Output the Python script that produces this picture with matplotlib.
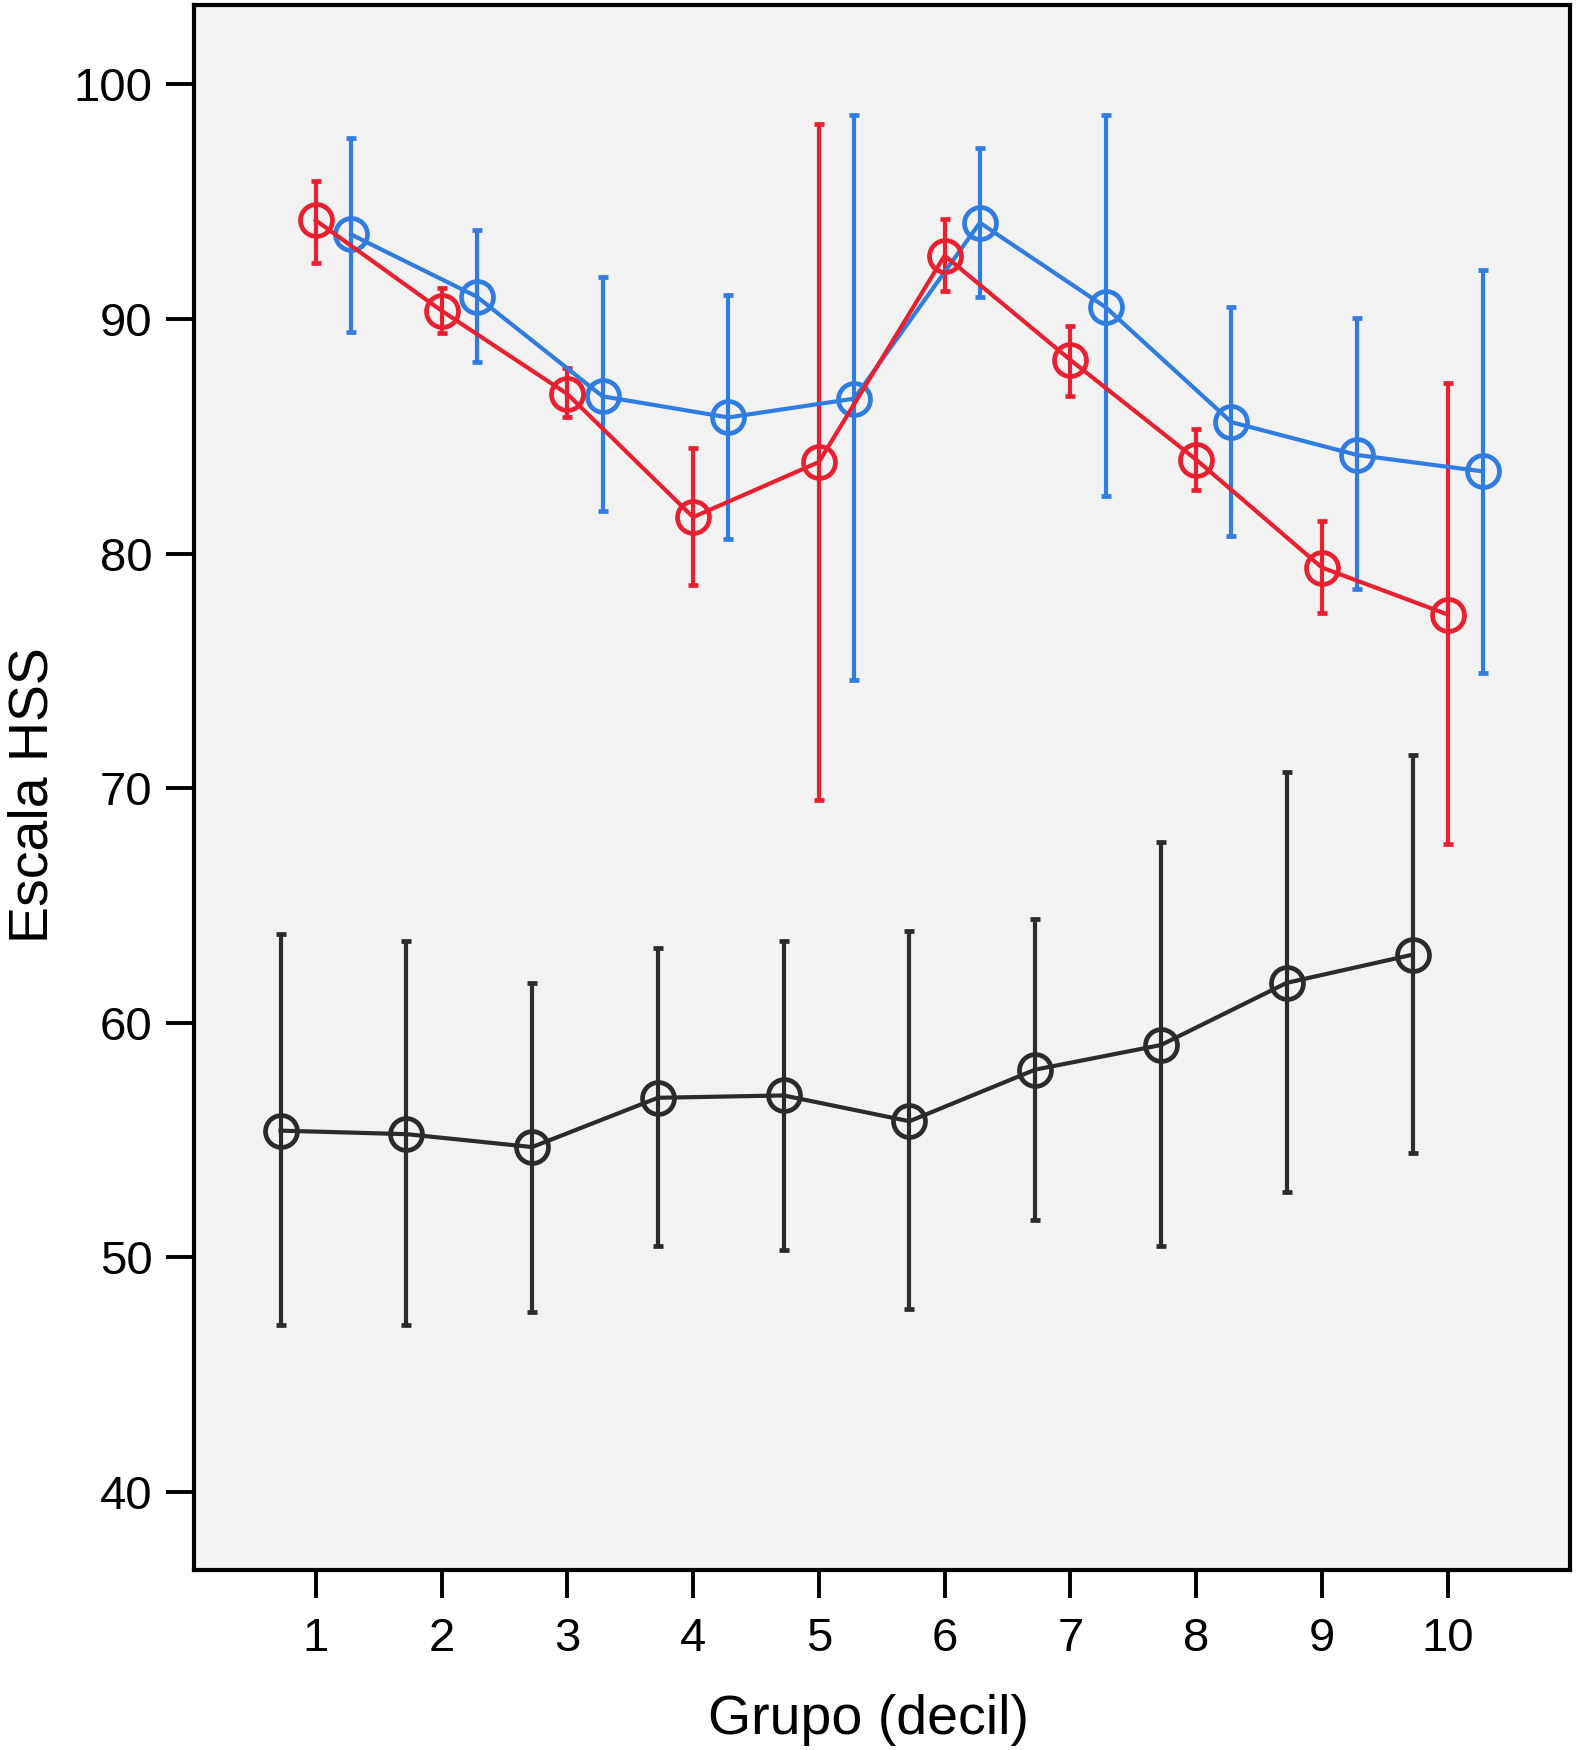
import numpy as np
import matplotlib
matplotlib.use("Agg")
import matplotlib.pyplot as plt

plt.rcParams["font.family"] = ["Liberation Sans", "DejaVu Sans"]

grupos = [1, 2, 3, 4, 5, 6, 7, 8, 9, 10]

# red series (centred on the ticks)
rojo_media = [94.2, 90.35, 86.8, 81.55, 83.9, 92.7, 88.25, 84.0, 79.4, 77.4]
rojo_sup = [95.9, 91.3, 87.9, 84.5, 98.3, 94.25, 89.7, 85.3, 81.4, 87.25]
rojo_inf = [92.4, 89.4, 85.8, 78.65, 69.5, 91.2, 86.7, 82.7, 77.45, 67.6]

# blue series (shifted right)
azul_media = [93.6, 90.95, 86.7, 85.8, 86.6, 94.1, 90.5, 85.6, 84.2, 83.5]
azul_sup = [97.7, 93.8, 91.8, 91.0, 98.7, 97.3, 98.7, 90.5, 90.05, 92.1]
azul_inf = [89.45, 88.15, 81.8, 80.6, 74.6, 90.95, 82.45, 80.75, 78.5, 74.9]

# black series (shifted left)
negro_media = [55.4, 55.25, 54.7, 56.8, 56.9, 55.8, 58.0, 59.05, 61.7, 62.9]
negro_sup = [63.8, 63.5, 61.7, 63.2, 63.5, 63.9, 64.4, 67.7, 70.7, 71.4]
negro_inf = [47.1, 47.1, 47.65, 50.5, 50.3, 47.8, 51.6, 50.5, 52.8, 54.45]

series = [
    (negro_media, negro_inf, negro_sup, -0.28, "#2b2b2b"),
    (azul_media, azul_inf, azul_sup, 0.28, "#2f7de1"),
    (rojo_media, rojo_inf, rojo_sup, 0.0, "#e8202f"),
]

fig = plt.figure(figsize=(15.76, 17.5), dpi=100)
ax = fig.add_axes([0.1232, 0.1027, 0.8733, 0.8947])
ax.set_facecolor("#f2f2f2")

for media, inf, sup, desplaz, color in series:
    x = np.array(grupos) + desplaz
    m = np.array(media)
    yerr = [m - np.array(inf), np.array(sup) - m]
    ax.errorbar(x, m, yerr=yerr, color=color, linewidth=3.0,
                elinewidth=3.0, capsize=3.5, capthick=3.2,
                marker="o", markersize=23, markerfacecolor="none",
                markeredgecolor=color, markeredgewidth=3.4, zorder=3)

ax.set_xlim(0.033, 10.976)
ax.set_ylim(36.66, 103.4)
ax.set_xticks(grupos)
ax.set_yticks([40, 50, 60, 70, 80, 90, 100])
ax.tick_params(axis="both", direction="out", length=20, width=2.8,
               labelsize=34)
ax.tick_params(axis="x", pad=14)
ax.tick_params(axis="y", pad=10)
for s in ax.spines.values():
    s.set_linewidth(3.0)

ax.set_xlabel("Grupo (decil)", fontsize=40)
ax.set_ylabel("Escala HSS", fontsize=40)
ax.xaxis.set_label_coords(0.49, -0.079)
ax.yaxis.set_label_coords(-0.098, 0.495)

fig.savefig("out.png", dpi=100)
